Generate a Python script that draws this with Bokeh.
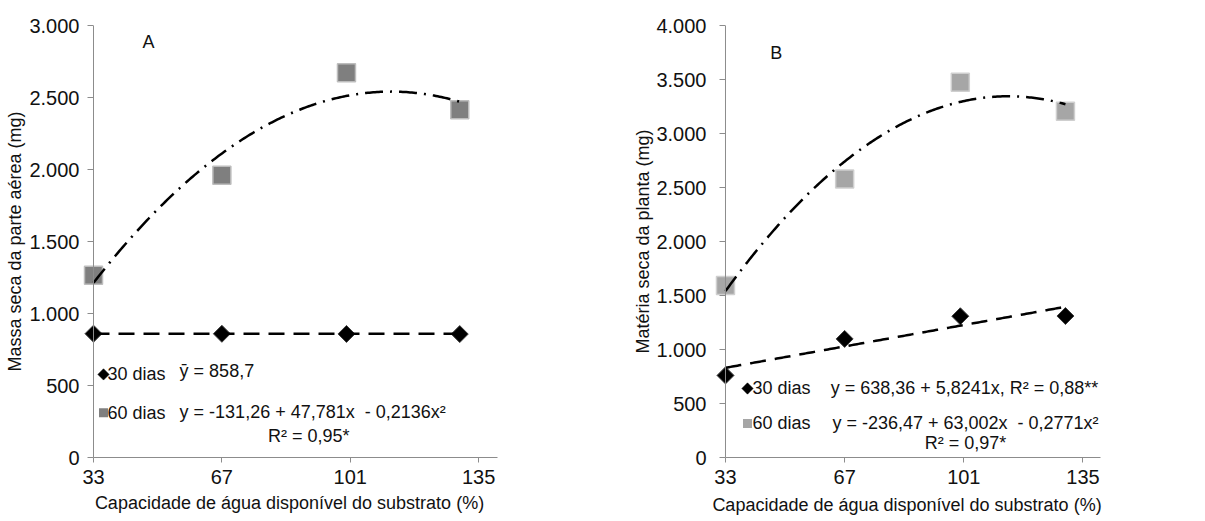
import numpy as np
from bokeh.plotting import figure
from bokeh.models import FixedTicker, Label, Range1d, Span
from bokeh.layouts import row
from bokeh.embed import file_html
from bokeh.resources import INLINE

# ---------------- data ----------------
x_levels = [33, 67, 100, 130]          # treatment positions (%)
x_tick_values = [33, 67, 101, 135]     # axis tick labels

a_30_dias = [860, 859, 858, 857]       # Massa seca da parte aérea, 30 dias
a_60_dias = [1265, 1960, 2672, 2415]   # Massa seca da parte aérea, 60 dias
b_30_dias = [760, 1098, 1308, 1310]    # Matéria seca da planta, 30 dias
b_60_dias = [1593, 2578, 3475, 3206]   # Matéria seca da planta, 60 dias

# regression coefficients printed on the chart (c0, c1, c2)
a_fit_30 = [858.7, 0.0, 0.0]
a_fit_60 = [-131.26, 47.781, -0.2136]
b_fit_30 = [638.36, 5.8241, 0.0]
b_fit_60 = [-236.47, 63.002, -0.2771]

a_y_ticks = [0, 500, 1000, 1500, 2000, 2500, 3000]
b_y_ticks = [0, 500, 1000, 1500, 2000, 2500, 3000, 3500, 4000]

series_names = ["30 dias", "60 dias"]
a_eq_30 = "ȳ = 858,7"
a_eq_60 = "y = -131,26 + 47,781x \u00a0- 0,2136x²"
a_r2_60 = "R² = 0,95*"
b_eq_30 = "y = 638,36 + 5,8241x, R² = 0,88**"
b_eq_60 = "y = -236,47 + 63,002x \u00a0- 0,2771x²"
b_r2_60 = "R² = 0,97*"

x_title = "Capacidade de água disponível do substrato (%)"
a_y_title = "Massa seca da parte aérea (mg)"
b_y_title = "Matéria seca da planta (mg)"

FONT = "Liberation Sans"
TXT = "#111111"
AX = "#8c8c8c"
GAP = 12  # px between frame edge and the y axis (x = 33), keeps markers unclipped


def fmt(v):
    return f"{v:,}".replace(",", ".")


def make_panel(width, b_left, b_right, b_bottom, x_start, ymax, yticks,
               ytitle, y30, y60, fit30, fit60, sq_fill, sq_line,
               ylab_standoff, ytitle_standoff, xtitle_standoff,
               legend_pos, letter, texts):
    p = figure(width=width, height=521, x_range=Range1d(x_start, 140),
               y_range=Range1d(0, ymax), output_backend="svg",
               toolbar_location=None, min_border_left=b_left,
               min_border_right=b_right, min_border_top=25,
               min_border_bottom=b_bottom)
    p.outline_line_color = None
    p.grid.visible = False
    p.background_fill_color = "white"
    p.border_fill_color = "white"

    for ax in (p.xaxis[0], p.yaxis[0]):
        ax.major_tick_line_color = AX
        ax.minor_tick_line_color = None
        ax.major_label_text_font = FONT
        ax.major_label_text_font_size = "20px"
        ax.major_label_text_color = TXT
        ax.axis_label_text_font = FONT
        ax.axis_label_text_font_size = "18px"
        ax.axis_label_text_font_style = "normal"
        ax.axis_label_text_color = TXT

    p.xaxis.ticker = FixedTicker(ticks=x_tick_values)
    p.xaxis.bounds = (x_levels[0], 140)
    p.xaxis.axis_line_color = AX
    p.xaxis.major_tick_in = 0
    p.xaxis.major_tick_out = 5
    p.xaxis.major_label_standoff = 7
    p.xaxis.axis_label = x_title
    p.xaxis.axis_label_standoff = xtitle_standoff

    # y axis: ticks/labels drawn so that they meet the vertical line at x = 33
    p.yaxis.ticker = FixedTicker(ticks=yticks)
    p.yaxis.axis_line_color = None
    p.yaxis.major_label_overrides = {v: fmt(v) for v in yticks}
    p.yaxis.major_tick_in = GAP
    p.yaxis.major_tick_out = 6 - GAP
    p.yaxis.major_label_standoff = ylab_standoff
    p.yaxis.axis_label = ytitle
    p.yaxis.axis_label_standoff = ytitle_standoff
    p.add_layout(Span(location=x_levels[0], dimension="height",
                      line_color=AX, line_width=1))

    p.scatter(x_levels, y60, marker="square", size=18,
              fill_color=sq_fill, line_color=sq_line, line_width=1.5)
    p.scatter(x_levels, y30, marker="square", angle=np.pi / 4, size=12,
              fill_color="black", line_color="#3c3c3c", line_width=1)

    xs = np.linspace(x_levels[0], x_levels[-1], 200)
    p.line(xs, fit60[0] + fit60[1] * xs + fit60[2] * xs ** 2,
           line_color="black", line_width=2.5, line_dash="18 7 2 7")
    p.line(xs, fit30[0] + fit30[1] * xs + fit30[2] * xs ** 2,
           line_color="black", line_width=2.5, line_dash="16 9")

    # legend (key symbols + names)
    kx, tx0, ky30, ky60 = legend_pos
    p.scatter([kx], [ky30], marker="square", angle=np.pi / 4, size=8,
              fill_color="black", line_color="black", line_width=0.5)
    p.scatter([kx], [ky60], marker="square", size=9,
              fill_color=sq_fill, line_color=None)
    for name, ky in zip(series_names, (ky30, ky60)):
        p.add_layout(Label(x=tx0, y=ky, text=name, text_font=FONT,
                           text_font_size="18px", text_color=TXT,
                           text_baseline="middle"))

    lx, ly, lt = letter
    p.add_layout(Label(x=lx, y=ly, text=lt, text_font=FONT,
                       text_font_size="18px", text_color=TXT,
                       text_baseline="middle"))
    for (tx, ty, t, align) in texts:
        p.add_layout(Label(x=tx, y=ty, text=t, text_font=FONT,
                           text_font_size="18px", text_color=TXT,
                           text_align=align, text_baseline="middle"))
    return p


pa = make_panel(600, 81, 103, 62, 29.82, 3000, a_y_ticks, a_y_title,
                a_30_dias, a_60_dias, a_fit_30, a_fit_60,
                "#7f7f7f", "#bdbdbd", 2, 1, 6,
                (35.65, 36.7, 577, 311),
                (46, 2882, "A"), [(55.8, 601, a_eq_30, "left"),
                                  (55.8, 318, a_eq_60, "left"),
                                  (90.0, 152, a_r2_60, "center")])

pb = make_panel(605, 113, 105, 64, 29.58, 4000, b_y_ticks, b_y_title,
                b_30_dias, b_60_dias, b_fit_30, b_fit_60,
                "#a6a6a6", "#cfcfcf", 7, 0, 8,
                (39.28, 40.71, 639, 315),
                (45.8, 3750, "B"), [(63.0, 639, b_eq_30, "left"),
                                    (63.5, 315, b_eq_60, "left"),
                                    (101.5, 130, b_r2_60, "center")])

layout = row(pa, pb, spacing=0)
open("out.html", "w").write(file_html(layout, INLINE))
